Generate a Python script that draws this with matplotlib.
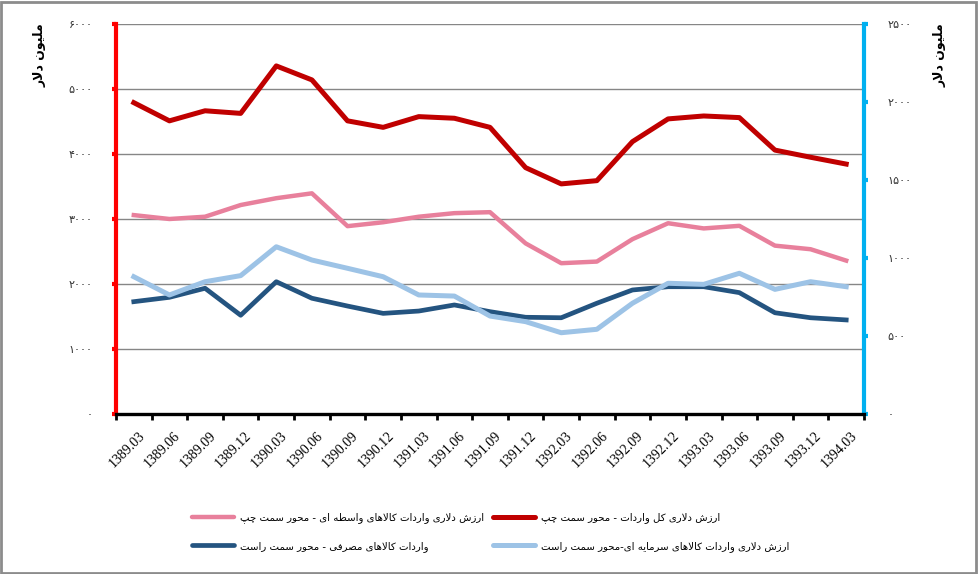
import matplotlib
matplotlib.use("Agg")
import matplotlib.pyplot as plt
import matplotlib.transforms as mtransforms
from matplotlib.lines import Line2D
from matplotlib.patches import Rectangle
import numpy as np

# quarterly periods (Persian calendar)
periods = ["1389.03", "1389.06", "1389.09", "1389.12", "1390.03", "1390.06", "1390.09",
           "1390.12", "1391.03", "1391.06", "1391.09", "1391.12", "1392.03", "1392.06",
           "1392.09", "1392.12", "1393.03", "1393.06", "1393.09", "1393.12", "1394.03"]

# left axis series (million dollars)
total_imports = [4790, 4510, 4665, 4625, 5355, 5140, 4510, 4410, 4575, 4550, 4410,
                 3790, 3540, 3590, 4190, 4540, 4585, 4560, 4060, 3950, 3845]
intermediate = [3060, 3000, 3035, 3215, 3320, 3395, 2890, 2950, 3035, 3090, 3105,
                2625, 2320, 2345, 2690, 2935, 2855, 2895, 2590, 2535, 2360]

# right axis series (million dollars)
consumer = [720, 748, 806, 633, 848, 742, 692, 645, 660, 699, 656,
            620, 617, 710, 795, 816, 816, 778, 649, 617, 603]
capital = [880, 763, 848, 887, 1072, 987, 934, 880, 763, 756, 628,
           592, 521, 543, 710, 838, 831, 902, 799, 848, 816]

left_ticks = [0, 1000, 2000, 3000, 4000, 5000, 6000]
right_ticks = [0, 500, 1000, 1500, 2000, 2500]

lbl_total = "ارزش دلاری کل واردات - محور سمت چپ"
lbl_inter = "ارزش دلاری واردات کالاهای واسطه ای - محور سمت چپ"
lbl_cons = "واردات کالاهای مصرفی - محور سمت راست"
lbl_cap = "ارزش دلاری واردات کالاهای سرمایه ای-محور سمت راست"
unit_lbl = "ملیون دلار"

# --- minimal Arabic/Persian shaping (matplotlib has no bidi/shaping) ---
FORMS = {
    "ا": (0xFE8D, 0xFE8E), "د": (0xFEA9, 0xFEAA), "ر": (0xFEAD, 0xFEAE),
    "ز": (0xFEAF, 0xFEB0), "و": (0xFEED, 0xFEEE),
    "ب": (0xFE8F, 0xFE90, 0xFE91, 0xFE92), "ت": (0xFE95, 0xFE96, 0xFE97, 0xFE98),
    "ح": (0xFEA1, 0xFEA2, 0xFEA3, 0xFEA4), "س": (0xFEB1, 0xFEB2, 0xFEB3, 0xFEB4),
    "ش": (0xFEB5, 0xFEB6, 0xFEB7, 0xFEB8), "ص": (0xFEB9, 0xFEBA, 0xFEBB, 0xFEBC),
    "ط": (0xFEC1, 0xFEC2, 0xFEC3, 0xFEC4), "ف": (0xFED1, 0xFED2, 0xFED3, 0xFED4),
    "ل": (0xFEDD, 0xFEDE, 0xFEDF, 0xFEE0), "م": (0xFEE1, 0xFEE2, 0xFEE3, 0xFEE4),
    "ن": (0xFEE5, 0xFEE6, 0xFEE7, 0xFEE8), "ه": (0xFEE9, 0xFEEA, 0xFEEB, 0xFEEC),
    "پ": (0xFB56, 0xFB57, 0xFB58, 0xFB59), "چ": (0xFB7A, 0xFB7B, 0xFB7C, 0xFB7D),
    "ک": (0xFB8E, 0xFB8F, 0xFB90, 0xFB91), "ی": (0xFBFC, 0xFBFD, 0xFBFE, 0xFBFF),
    "LA": (0xFEFB, 0xFEFC),
}


def shape(text):
    toks = []
    i = 0
    while i < len(text):
        if text[i] == "ل" and i + 1 < len(text) and text[i + 1] == "ا":
            toks.append("LA")
            i += 2
        else:
            toks.append(text[i])
            i += 1
    out = []
    for k, t in enumerate(toks):
        if t not in FORMS:
            out.append(t)
            continue
        f = FORMS[t]
        prev = k > 0 and toks[k - 1] in FORMS and len(FORMS[toks[k - 1]]) == 4
        nxt = len(f) == 4 and k + 1 < len(toks) and toks[k + 1] in FORMS
        if prev and nxt:
            c = f[3]
        elif nxt:
            c = f[2]
        elif prev:
            c = f[1]
        else:
            c = f[0]
        out.append(chr(c))
    return "".join(out)[::-1]


def fa_num(v):
    return str(int(v)).translate(str.maketrans("0123456789", "۰۱۲۳۴۵۶۷۸۹"))


plt.rcParams["font.family"] = ["DejaVu Sans"]

W, H = 979, 574
fig = plt.figure(figsize=(W / 100, H / 100), dpi=100)
ax = fig.add_axes([116 / W, 1 - 414 / H, (864 - 116) / W, (414 - 24) / H])
ax2 = ax.twinx()

x = np.arange(len(periods))
ax.plot(x, total_imports, color="#C00000", lw=3.6, solid_joinstyle="round", zorder=3)
ax.plot(x, intermediate, color="#E8809C", lw=3.2, solid_joinstyle="round", zorder=3)
ax2.plot(x, consumer, color="#245480", lw=3.4, solid_joinstyle="round")
ax2.plot(x, capital, color="#9DC3E6", lw=3.6, solid_joinstyle="round")

ax.set_xlim(-0.5, len(periods) - 0.5)
ax.set_ylim(0, 6000)
ax2.set_ylim(0, 2500)

ax.set_yticks(left_ticks)
ax.set_yticklabels([fa_num(v) for v in left_ticks], fontsize=8, color="#333333")
ax2.set_yticks(right_ticks)
ax2.set_yticklabels([fa_num(v) for v in right_ticks], fontsize=8, color="#333333")
ax.grid(axis="y", color="#868686", lw=1)
ax.set_axisbelow(True)

ax.tick_params(axis="y", direction="out", length=3, width=3, color="#FF0000", pad=14)
ax2.tick_params(axis="y", direction="out", length=3, width=3, color="#00B0F0", pad=14)

ax.set_xticks(x)
ax.set_xticklabels(periods, fontsize=10, family="Liberation Serif",
                   rotation=45, ha="right", va="center", rotation_mode="anchor")
ax.set_xticks(np.arange(-0.5, len(periods), 1), minor=True)
ax.tick_params(axis="x", which="major", length=0, pad=14)
ax.tick_params(axis="x", which="minor", direction="out", length=4, width=2, color="black")
shift = mtransforms.ScaledTranslation(0.09, 0, fig.dpi_scale_trans)
for lab in ax.get_xticklabels():
    lab.set_transform(lab.get_transform() + shift)

for a in (ax, ax2):
    for s in a.spines.values():
        s.set_visible(False)
ax2.spines["left"].set_visible(True)
ax2.spines["left"].set_color("#FF0000")
ax2.spines["left"].set_linewidth(3)
ax2.spines["right"].set_visible(True)
ax2.spines["right"].set_color("#00B0F0")
ax2.spines["right"].set_linewidth(3)
ax2.spines["bottom"].set_visible(True)
ax2.spines["bottom"].set_color("black")
ax2.spines["bottom"].set_linewidth(2.4)

fig.text(40 / W, 1 - 55 / H, shape(unit_lbl), rotation=90, fontsize=9,
         ha="center", va="center", fontweight="bold")
fig.text(940 / W, 1 - 55 / H, shape(unit_lbl), rotation=90, fontsize=9,
         ha="center", va="center", fontweight="bold")

handles = [Line2D([], [], color="#E8809C", lw=3.2, solid_capstyle="round"),
           Line2D([], [], color="#245480", lw=3.4, solid_capstyle="round"),
           Line2D([], [], color="#C00000", lw=3.6, solid_capstyle="round"),
           Line2D([], [], color="#9DC3E6", lw=3.6, solid_capstyle="round")]
labels = [shape(lbl_inter), shape(lbl_cons), shape(lbl_total), shape(lbl_cap)]
fig.legend(handles, labels, ncol=2, loc="upper left", frameon=False,
           bbox_to_anchor=(183 / W, 1 - 503 / H), fontsize=7.3,
           handlelength=4.1, handletextpad=0.6, columnspacing=0.9,
           labelspacing=1.75)

fig.add_artist(Rectangle((0.001, 0.002), 0.996, 0.995, transform=fig.transFigure,
                         fill=False, edgecolor="#8C8C8C", lw=2))

fig.savefig("out.png", dpi=100)
